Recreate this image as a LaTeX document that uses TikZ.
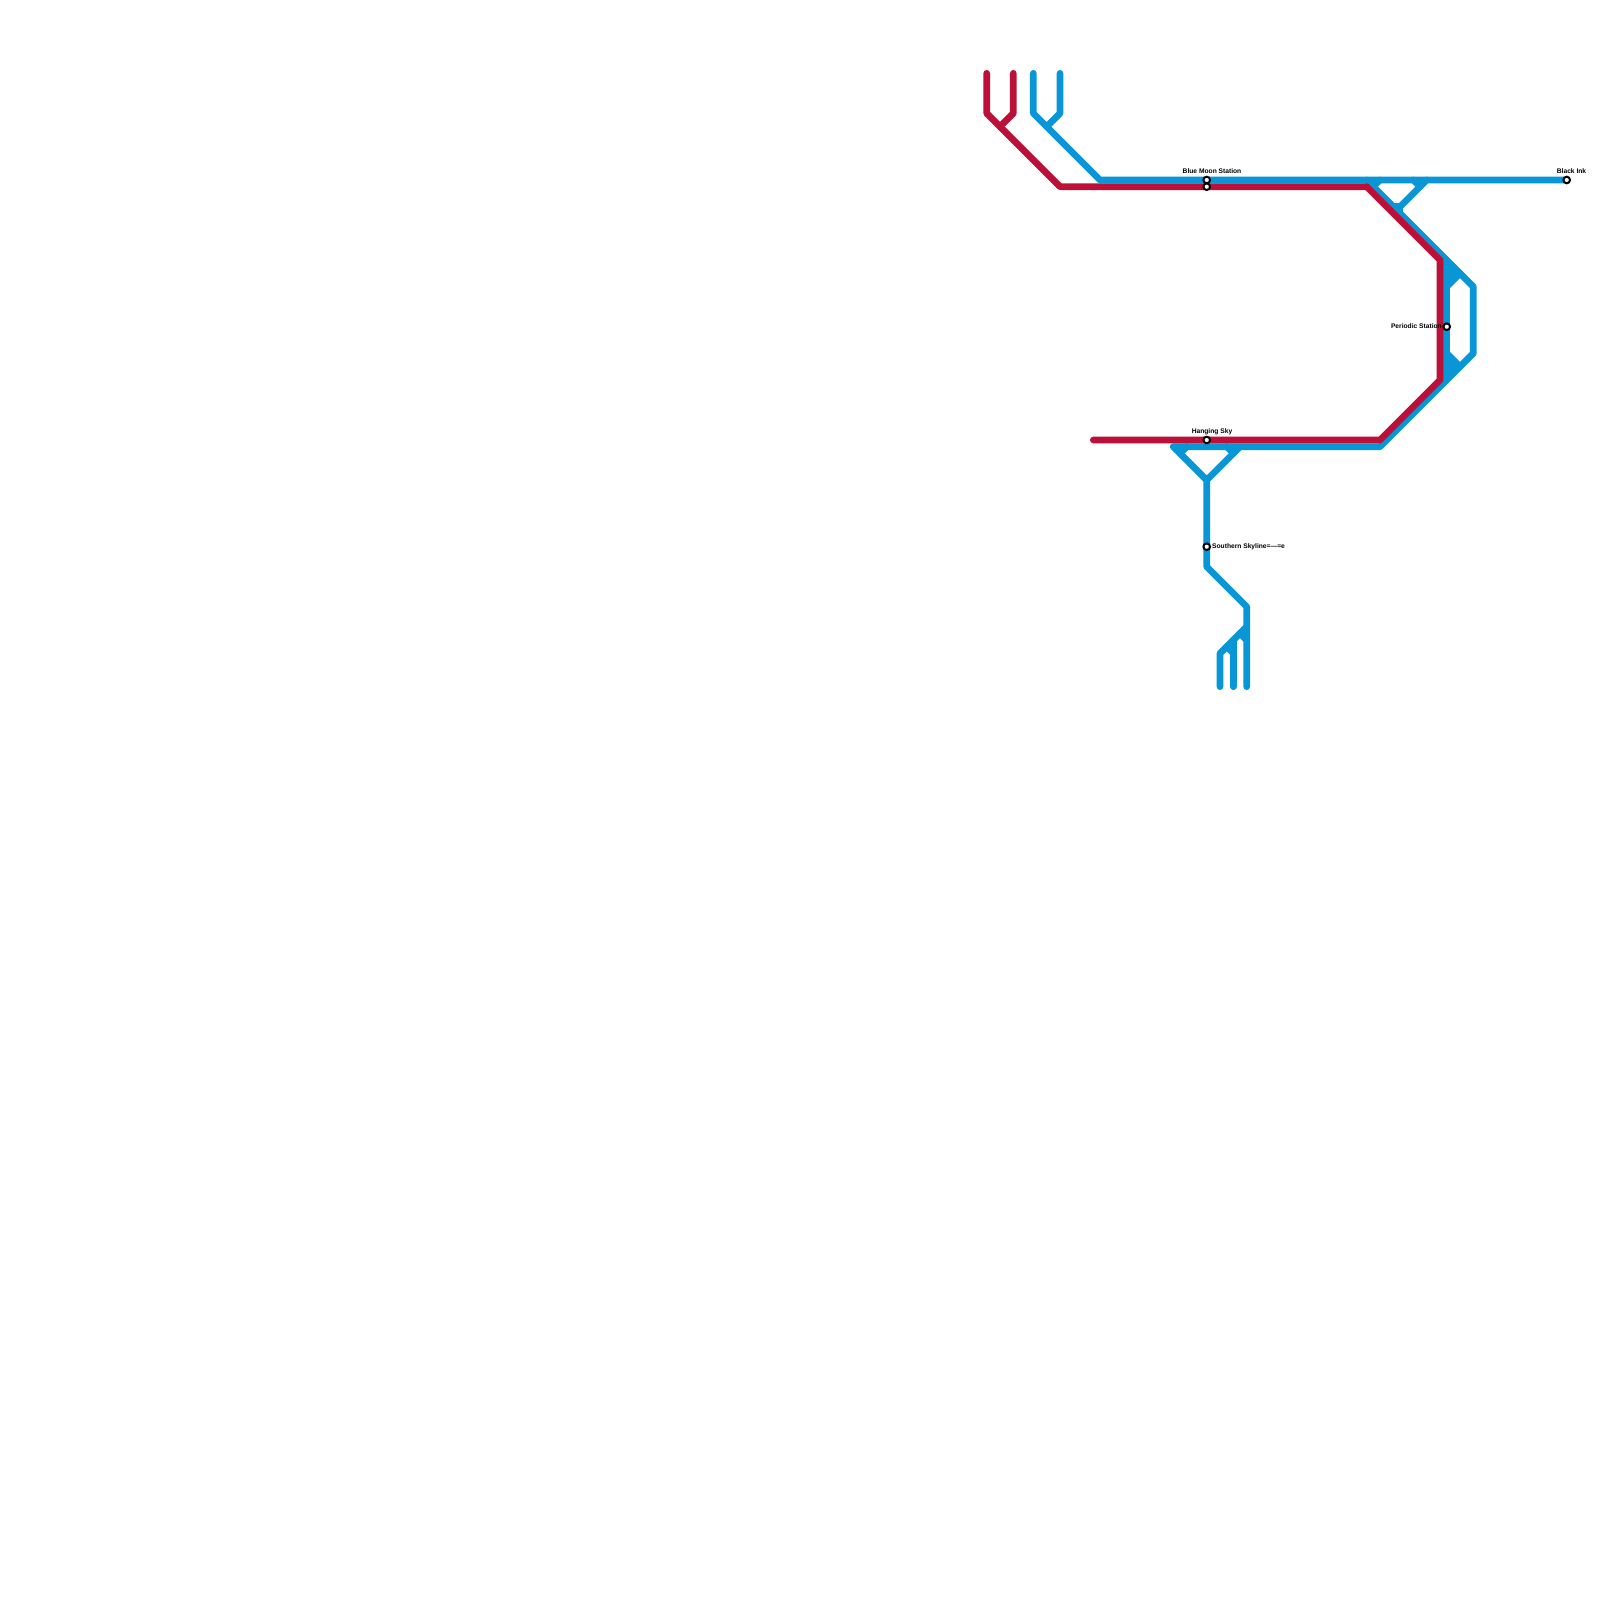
\documentclass[tikz,border=0pt]{standalone}
\usepackage{fontspec}
\setmainfont{Liberation Sans}
\tikzset{
  x=1pt,y=-1pt,
  route/.style={line width=6.67pt,line join=round,line cap=round},
  redline/.style={route,draw=routered},
  blueline/.style={route,draw=routeblue},
  stop/.style={circle,draw=black,fill=white,line width=2pt,minimum size=6.6pt,inner sep=0pt},
  lbl/.style={inner sep=0pt,font=\fontsize{6.67}{8}\selectfont\bfseries,text=black}
}
\definecolor{routered}{HTML}{BD1038}
\definecolor{routeblue}{HTML}{0896D7}
\begin{document}
\begin{tikzpicture}
\useasboundingbox (0,0) rectangle (1600,1600);
\fill[white] (0,0) rectangle (1600,1600);
% blue route
\draw[blueline] (1033.3,73.3) -- (1033.3,113.3) -- (1100,180) -- (1566.7,180);
\draw[blueline] (1060,73.3) -- (1060,113.3) -- (1046.7,126.7);
\draw[blueline] (1366.7,180) -- (1473.3,286.7) -- (1473.3,353.3) -- (1380,446.7) -- (1173.3,446.7) -- (1206.7,480) -- (1240,446.7);
\draw[blueline] (1400,206.7) -- (1426.7,180);
% chamfers of the upper triangle
\draw[blueline] (1380,180) -- (1373.3,186.7);
\draw[blueline] (1413.3,180) -- (1420,186.7);
\draw[blueline] (1393.3,206.7) -- (1400,206.7) -- (1400,213.3);
% chamfers of the lower triangle
\draw[blueline] (1186.7,446.7) -- (1180,453.3);
\draw[blueline] (1226.7,446.7) -- (1233.3,453.3);
% double block beside the hexagon
\fill[routeblue] (1446.7,260) -- (1460,273.3) -- (1446.7,286.7) -- cycle;
\fill[routeblue] (1446.7,353.3) -- (1460,366.7) -- (1446.7,380) -- cycle;
\draw[blueline] (1446.7,262) -- (1446.7,378);
\draw[blueline] (1446.7,286.7) -- (1460,273.3);
\draw[blueline] (1446.7,353.3) -- (1460,366.7);
% southern branch
\draw[blueline] (1206.7,480) -- (1206.7,566.7) -- (1246.7,606.7) -- (1246.7,686.7);
\draw[blueline] (1246.7,626.7) -- (1220,653.3) -- (1220,686.7);
\draw[blueline] (1233.3,686.7) -- (1233.3,640);
\draw[blueline] (1233.3,653.3) -- (1226.7,646.7);
\draw[blueline] (1246.7,640) -- (1240,633.3);
% red route
\draw[redline] (986.7,73.3) -- (986.7,113.3) -- (1060,186.7) -- (1366.7,186.7) -- (1440,260) -- (1440,380) -- (1380,440) -- (1093.3,440);
\draw[redline] (1013.3,73.3) -- (1013.3,113.3) -- (1000,126.7);
% stations
\node[stop] (blue1) at (1206.7,180) {};
\node[stop] (blue2) at (1206.7,186.7) {};
\node[stop] (ink) at (1566.7,180) {};
\node[stop] (periodic) at (1446.7,326.7) {};
\node[stop] (hanging) at (1206.7,440) {};
\node[stop] (southern) at (1206.7,546.7) {};
% labels
\node[lbl,anchor=center] (lblue) at (1212,170.7) {Blue Moon Station};
\node[lbl,anchor=center] (link) at (1571.5,170.7) {Black Ink};
\node[lbl,anchor=east] (lperiodic) at (1442,326) {Periodic Station};
\node[lbl,anchor=center] (lhanging) at (1212,431.4) {Hanging Sky};
\node[lbl,anchor=west] (lsouthern) at (1212,546.8) {Southern Skyline=---=e};
\end{tikzpicture}
\end{document}
